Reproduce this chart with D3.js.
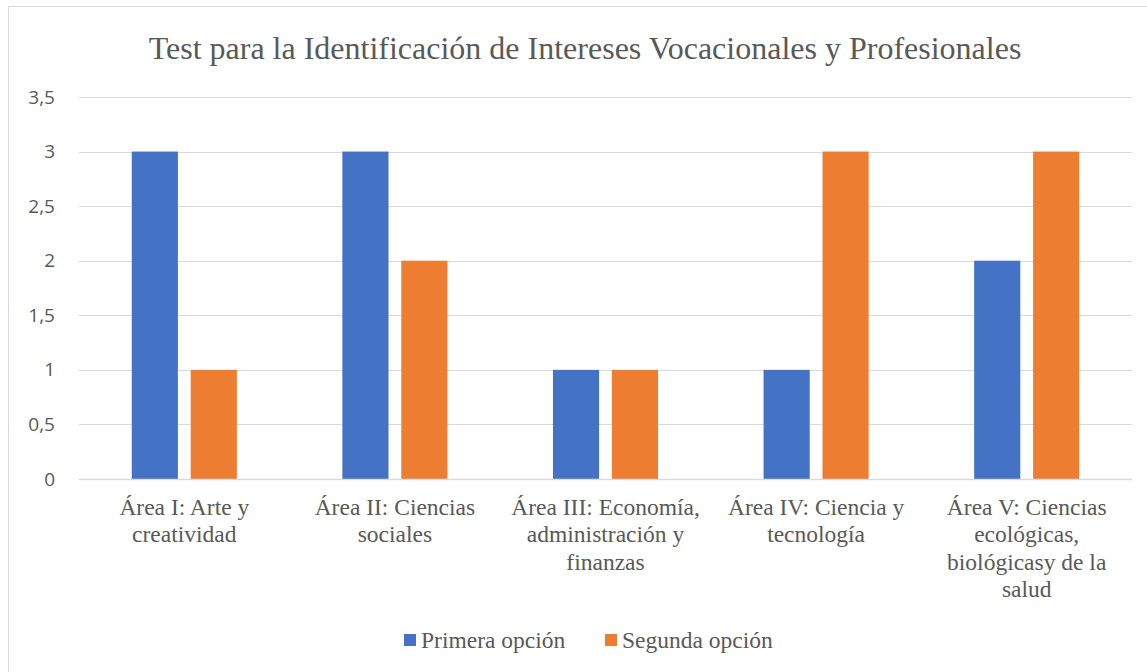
<!DOCTYPE html>
<html>
<head>
<meta charset="utf-8">
<script src="https://cdn.jsdelivr.net/npm/d3@7"></script>
<style>
  body { margin: 0; background: #fff; }
  svg { display: block; }
</style>
</head>
<body>
<div id="chart"></div>
<script>
// chart data
var categories = [
  "Área I: Arte y\ncreatividad",
  "Área II: Ciencias\nsociales",
  "Área III: Economía,\nadministración y\nfinanzas",
  "Área IV: Ciencia y\ntecnología",
  "Área V: Ciencias\necológicas,\nbiológicasy de la\nsalud"
];
var seriesNames = ["Primera opción", "Segunda opción"];
var primera = [3, 3, 1, 1, 2];
var segunda = [1, 2, 1, 3, 3];
var yTicks = [0, 0.5, 1, 1.5, 2, 2.5, 3, 3.5];
var colors = ["#4472c4", "#ed7d31"];

var svgWidth = 1147;
var svgHeight = 672;
var margin = { top: 97, right: 15, bottom: 193, left: 79 };
var width = svgWidth - margin.left - margin.right;
var height = svgHeight - margin.top - margin.bottom;

var serif = "'Liberation Serif', 'Times New Roman', serif";

var svg = d3.select("#chart")
  .append("svg")
  .attr("width", svgWidth)
  .attr("height", svgHeight);

// outer frame
svg.append("rect")
  .attr("x", 8.5)
  .attr("y", 6.5)
  .attr("width", svgWidth)
  .attr("height", svgHeight)
  .attr("fill", "#fff")
  .attr("stroke", "#d9d9d9")
  .attr("stroke-width", 1);

svg.append("text")
  .attr("x", 585)
  .attr("y", 59)
  .attr("text-anchor", "middle")
  .attr("font-family", serif)
  .attr("font-size", "32px")
  .attr("fill", "#595959")
  .text("Test para la Identificación de Intereses Vocacionales y Profesionales");

var chartGroup = svg.append("g")
  .attr("transform", `translate(${margin.left}, ${margin.top})`);

var x0 = d3.scaleBand()
  .domain(d3.range(categories.length))
  .range([0, width])
  .paddingInner(0)
  .paddingOuter(0);

var x1 = d3.scaleBand()
  .domain([0, 1])
  .range([x0.bandwidth() * 0.2505, x0.bandwidth() * 0.7495])
  .paddingInner(0.217);

var y = d3.scaleLinear()
  .domain([0, 3.5])
  .range([height, 0]);

// gridlines
chartGroup.append("g")
  .selectAll("line")
  .data(yTicks.filter(d => d > 0))
  .enter()
  .append("line")
  .attr("x1", 0)
  .attr("x2", width)
  .attr("y1", d => Math.round(y(d)) + 0.5)
  .attr("y2", d => Math.round(y(d)) + 0.5)
  .attr("stroke", "#d9d9d9")
  .attr("stroke-width", 1);

// y labels
var leftAxis = d3.axisLeft(y)
  .tickValues(yTicks)
  .tickSize(0)
  .tickPadding(24)
  .tickFormat(d => String(d).replace(".", ","));

var yAxis = chartGroup.append("g").call(leftAxis);
yAxis.select(".domain").remove();
yAxis.selectAll("text")
  .attr("font-family", "'Open Sans', 'Liberation Sans', sans-serif")
  .attr("font-size", "19px")
  .attr("fill", "#595959");

// bars
var groups = chartGroup.append("g")
  .selectAll("g")
  .data(categories.map((c, i) => [primera[i], segunda[i]]))
  .enter()
  .append("g")
  .attr("transform", (d, i) => `translate(${x0(i)}, 0)`);

groups.selectAll("rect")
  .data(d => d)
  .enter()
  .append("rect")
  .attr("x", (d, j) => x1(j))
  .attr("width", x1.bandwidth())
  .attr("y", d => y(d))
  .attr("height", d => height - y(d))
  .attr("fill", (d, j) => colors[j]);

// x axis line
chartGroup.append("line")
  .attr("x1", 0)
  .attr("x2", width)
  .attr("y1", height + 0.5)
  .attr("y2", height + 0.5)
  .attr("stroke", "#d9d9d9")
  .attr("stroke-width", 1.5);

// category labels
var labels = chartGroup.append("g")
  .selectAll("text")
  .data(categories)
  .enter()
  .append("text")
  .attr("text-anchor", "middle")
  .attr("font-family", serif)
  .attr("font-size", "23.5px")
  .attr("fill", "#595959")
  .attr("transform", (d, i) => `translate(${x0(i) + x0.bandwidth() / 2}, ${height + 36})`);

labels.selectAll("tspan")
  .data(d => d.split("\n"))
  .enter()
  .append("tspan")
  .attr("x", 0)
  .attr("y", (d, k) => k * 27.3)
  .text(d => d);

// legend
var legendX = [404, 605];
var legend = svg.append("g")
  .selectAll("g")
  .data(seriesNames)
  .enter()
  .append("g")
  .attr("transform", (d, i) => `translate(${legendX[i]}, 634)`);

legend.append("rect")
  .attr("width", 12)
  .attr("height", 12)
  .attr("fill", (d, i) => colors[i]);

legend.append("text")
  .attr("x", 17)
  .attr("y", 14)
  .attr("font-family", serif)
  .attr("font-size", "23.5px")
  .attr("fill", "#595959")
  .text(d => d);
</script>
</body>
</html>
